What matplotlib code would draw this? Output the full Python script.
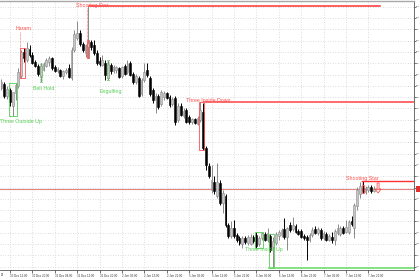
import matplotlib
matplotlib.use("Agg")
import matplotlib.pyplot as plt
import matplotlib.transforms as mtransforms
from matplotlib.patches import Rectangle, Polygon
import numpy as np

plt.rcParams['font.family'] = ['Liberation Sans', 'DejaVu Sans']

# ---------------- data (hourly OHLC) ----------------
opens = [1.2012, 1.2016, 1.2004, 1.2010, 1.1994, 1.2007, 1.2014, 1.2024, 1.2048, 1.2040,
         1.2051, 1.2045, 1.2038, 1.2034, 1.2024, 1.2030, 1.2034, 1.2038, 1.2042, 1.2033,
         1.2029, 1.2030, 1.2024, 1.2028, 1.2032, 1.2022, 1.2050, 1.2062, 1.2067, 1.2056,
         1.2047, 1.2053, 1.2058, 1.2055, 1.2047, 1.2039, 1.2035, 1.2037, 1.2022, 1.2035,
         1.2029, 1.2030, 1.2032, 1.2024, 1.2034, 1.2028, 1.2037, 1.2026, 1.2018, 1.2022,
         1.2006, 1.2020, 1.2030, 1.2022, 1.2010, 1.2000, 1.2004, 1.1996, 1.2003, 1.2007,
         1.2003, 1.1996, 1.2002, 1.1980, 1.1994, 1.1984, 1.1990, 1.1983, 1.1978, 1.1981,
         1.1976, 1.1980, 1.1988, 1.1952, 1.1934, 1.1910, 1.1918, 1.1904, 1.1917, 1.1897,
         1.1904, 1.1875, 1.1864, 1.1872, 1.1865, 1.1862, 1.1856, 1.1862, 1.1857, 1.1856,
         1.1863, 1.1865, 1.1856, 1.1862, 1.1866, 1.1860, 1.1864, 1.1853, 1.1857, 1.1864,
         1.1865, 1.1871, 1.1863, 1.1875, 1.1871, 1.1874, 1.1869, 1.1869, 1.1864, 1.1863,
         1.1860, 1.1865, 1.1871, 1.1867, 1.1870, 1.1862, 1.1866, 1.1860, 1.1863, 1.1860,
         1.1867, 1.1866, 1.1872, 1.1868, 1.1868, 1.1879, 1.1872, 1.1894, 1.1906, 1.1912,
         1.1908, 1.1910, 1.1913, 1.1909]
highs = [1.2021, 1.2018, 1.2014, 1.2012, 1.2002, 1.2017, 1.2032, 1.2050, 1.2052, 1.2058,
         1.2055, 1.2048, 1.2040, 1.2036, 1.2037, 1.2038, 1.2042, 1.2044, 1.2043, 1.2035,
         1.2033, 1.2031, 1.2030, 1.2032, 1.2036, 1.2053, 1.2070, 1.2079, 1.2070, 1.2058,
         1.2056, 1.2094, 1.2060, 1.2060, 1.2050, 1.2043, 1.2045, 1.2040, 1.2040, 1.2037,
         1.2035, 1.2034, 1.2033, 1.2034, 1.2036, 1.2040, 1.2039, 1.2028, 1.2026, 1.2024,
         1.2022, 1.2037, 1.2037, 1.2024, 1.2012, 1.2007, 1.2006, 1.2010, 1.2009, 1.2008,
         1.2005, 1.2003, 1.2004, 1.1997, 1.1997, 1.1992, 1.1992, 1.1985, 1.1982, 1.1982,
         1.1984, 1.1998, 1.1997, 1.1954, 1.1937, 1.1935, 1.1924, 1.1937, 1.1920, 1.1910,
         1.1906, 1.1877, 1.1879, 1.1880, 1.1867, 1.1864, 1.1864, 1.1864, 1.1865, 1.1866,
         1.1865, 1.1868, 1.1864, 1.1868, 1.1868, 1.1872, 1.1866, 1.1863, 1.1868, 1.1870,
         1.1872, 1.1882, 1.1873, 1.1878, 1.1883, 1.1876, 1.1871, 1.1871, 1.1866, 1.1865,
         1.1867, 1.1873, 1.1874, 1.1873, 1.1872, 1.1869, 1.1868, 1.1866, 1.1868, 1.1871,
         1.1876, 1.1874, 1.1874, 1.1880, 1.1880, 1.1884, 1.1897, 1.1913, 1.1918, 1.1919,
         1.1914, 1.1915, 1.1915, 1.1914]
lows = [1.2010, 1.2002, 1.2001, 1.1994, 1.1984, 1.2000, 1.2012, 1.2022, 1.2038, 1.2038,
        1.2043, 1.2036, 1.2033, 1.2024, 1.2018, 1.2029, 1.2033, 1.2034, 1.2030, 1.2028,
        1.2027, 1.2023, 1.2021, 1.2026, 1.2022, 1.2020, 1.2048, 1.2060, 1.2054, 1.2048,
        1.2043, 1.2042, 1.2050, 1.2045, 1.2035, 1.2034, 1.2034, 1.2020, 1.2020, 1.2026,
        1.2027, 1.2027, 1.2022, 1.2022, 1.2025, 1.2026, 1.2024, 1.2016, 1.2016, 1.2003,
        1.2004, 1.2018, 1.2023, 1.2004, 1.1997, 1.1987, 1.1991, 1.1994, 1.2000, 1.2001,
        1.1993, 1.1994, 1.1975, 1.1978, 1.1984, 1.1982, 1.1977, 1.1976, 1.1976, 1.1976,
        1.1975, 1.1978, 1.1950, 1.1930, 1.1922, 1.1907, 1.1906, 1.1902, 1.1895, 1.1887,
        1.1873, 1.1862, 1.1862, 1.1862, 1.1858, 1.1855, 1.1852, 1.1856, 1.1855, 1.1855,
        1.1857, 1.1852, 1.1854, 1.1860, 1.1859, 1.1858, 1.1848, 1.1832, 1.1855, 1.1860,
        1.1863, 1.1861, 1.1850, 1.1868, 1.1869, 1.1867, 1.1865, 1.1862, 1.1860, 1.1840,
        1.1858, 1.1863, 1.1866, 1.1865, 1.1860, 1.1860, 1.1859, 1.1859, 1.1857, 1.1855,
        1.1865, 1.1864, 1.1866, 1.1867, 1.1866, 1.1874, 1.1862, 1.1890, 1.1902, 1.1907,
        1.1906, 1.1908, 1.1907, 1.1908]
closes = [1.2018, 1.2004, 1.2011, 1.1998, 1.2008, 1.2015, 1.2028, 1.2048, 1.2042, 1.2052,
          1.2045, 1.2037, 1.2034, 1.2026, 1.2034, 1.2036, 1.2040, 1.2042, 1.2032, 1.2029,
          1.2031, 1.2024, 1.2029, 1.2030, 1.2023, 1.2050, 1.2066, 1.2067, 1.2056, 1.2050,
          1.2055, 1.2057, 1.2053, 1.2047, 1.2037, 1.2036, 1.2040, 1.2025, 1.2036, 1.2029,
          1.2033, 1.2033, 1.2023, 1.2033, 1.2026, 1.2036, 1.2025, 1.2018, 1.2024, 1.2004,
          1.2020, 1.2028, 1.2025, 1.2006, 1.2000, 1.2004, 1.1993, 1.2008, 1.2007, 1.2002,
          1.1995, 1.2001, 1.1978, 1.1994, 1.1985, 1.1989, 1.1978, 1.1978, 1.1981, 1.1977,
          1.1982, 1.1990, 1.1952, 1.1935, 1.1924, 1.1920, 1.1909, 1.1918, 1.1897, 1.1907,
          1.1875, 1.1864, 1.1872, 1.1864, 1.1860, 1.1857, 1.1862, 1.1858, 1.1863, 1.1863,
          1.1859, 1.1854, 1.1862, 1.1867, 1.1860, 1.1867, 1.1850, 1.1859, 1.1866, 1.1868,
          1.1870, 1.1863, 1.1872, 1.1870, 1.1875, 1.1868, 1.1866, 1.1863, 1.1862, 1.1860,
          1.1865, 1.1870, 1.1867, 1.1871, 1.1862, 1.1867, 1.1860, 1.1864, 1.1860, 1.1869,
          1.1872, 1.1872, 1.1867, 1.1873, 1.1878, 1.1876, 1.1895, 1.1910, 1.1914, 1.1909,
          1.1912, 1.1913, 1.1909, 1.1911]

time_tick_bars = [3, 11, 19, 27, 35, 43, 51, 59, 67, 75, 83, 91, 99, 107, 115, 123, 131]
time_tick_labels = ["30 Dec 12:00", "30 Dec 20:00", "31 Dec 04:00", "31 Dec 12:00",
                    "31 Dec 20:00", "2 Jan 05:00", "2 Jan 13:00", "2 Jan 21:00",
                    "5 Jan 05:00", "5 Jan 13:00", "5 Jan 21:00", "6 Jan 05:00",
                    "6 Jan 13:00", "6 Jan 21:00", "7 Jan 05:00", "7 Jan 13:00",
                    "7 Jan 21:00"]
first_label = "25"

# candlestick patterns found
pattern_names = ["Three Outside Up", "Haram", "Belt Hold", "Shooting Star", "Engulfing",
                 "Three Inside Down", "Three Inside Up", "", "Shooting Star"]
pattern_first = [3, 7, 14, 31, 38, 71, 91, 96, 129]
pattern_last = [5, 8, 14, 31, 38, 72, 93, 97, 129]
pattern_bull = [True, False, True, False, True, False, True, True, False]

# ---------------- layout ----------------
W, H = 420, 280
AX_RIGHT_PX, AX_BOTTOM_PX, AX_TOP_PX = 414, 270, 1
BAR_PX, BAR0_PX = 2.8, 1.5

GREEN = '#55cc55'
RED = '#ff4d4d'

# label anchors (bar position, price, ha) and whether the box stops at the body top
label_pos = [(-0.4, 1.1978, 'left'), (7.85, 1.2071, 'center'), (15.2, 1.2012, 'center'),
             (32.3, 1.2095, 'center'), (39.1, 1.2008, 'center'), (73.9, 1.2000, 'center'),
             (93.6, 1.1850, 'center'), None, (128.75, 1.1922, 'center')]
box_to_body = [False, False, False, True, False, False, False, False, True]
level_end = {3: 135.2}
dotted_box = [False, False, True, False, True, False, False, False, False]

fig = plt.figure(figsize=(W / 100, H / 100), dpi=100)
fig.patch.set_facecolor('white')
ax = fig.add_axes([0, 1 - AX_BOTTOM_PX / H, AX_RIGHT_PX / W, (AX_BOTTOM_PX - AX_TOP_PX) / H])

x_min = -BAR0_PX / BAR_PX
x_max = (AX_RIGHT_PX - BAR0_PX) / BAR_PX
ax.set_xlim(x_min, x_max)
ax.set_ylim(1.1830, 1.2099)

o = np.array(opens); h = np.array(highs); l = np.array(lows); c = np.array(closes)
idx = np.arange(len(o))
up = c >= o

BULL_EDGE = '#8a8a8a'
BULL_FACE = '#c6c6c6'
ax.vlines(idx[up], l[up], h[up], color=BULL_EDGE, lw=0.7, zorder=3)
ax.vlines(idx[~up], l[~up], h[~up], color='black', lw=0.7, zorder=3)
bw = 0.7
for i in idx:
    lo_b = min(o[i], c[i]); hi_b = max(o[i], c[i])
    hgt = max(hi_b - lo_b, 0.00005)
    if up[i]:
        ax.add_patch(Rectangle((i - bw / 2, lo_b), bw, hgt, facecolor=BULL_FACE,
                               edgecolor=BULL_EDGE, lw=0.4, zorder=4))
    else:
        ax.add_patch(Rectangle((i - bw / 2, lo_b), bw, hgt, facecolor='black',
                               edgecolor='black', lw=0.4, zorder=4))

# grid / axes
ytick_vals = 1.20933 - 0.00113 * np.arange(24)
ax.set_yticks(ytick_vals)
ax.set_yticklabels([f"{v:.3f}" for v in ytick_vals])
ax.yaxis.tick_right()
ax.tick_params(axis='y', labelsize=1.1, length=1.2, width=0.5, pad=0.2, colors='#444444')
ax.set_xticks(time_tick_bars)
ax.set_xticklabels(time_tick_labels)
for lab in ax.get_xticklabels():
    lab.set_ha('left')
ax.tick_params(axis='x', labelsize=2.1, length=2.5, width=0.5, pad=0.6, colors='#333333')
ax.grid(True, color='#d2d2d2', linestyle=(0, (1, 2)), lw=0.6)
ax.set_axisbelow(True)
ax.spines['left'].set_visible(False)
ax.spines['top'].set_color('#a8a8a8')
ax.spines['top'].set_linewidth(1.0)
ax.spines['right'].set_color('#555555')
ax.spines['right'].set_linewidth(0.6)
ax.spines['bottom'].set_color('#555555')
ax.spines['bottom'].set_linewidth(0.6)
fig.text(0.5 / W, 1 - 275 / H, first_label, fontsize=2.1, color='#333333',
         ha='left', va='center')

# current price line and marker
last = closes[-1]
ax.axhline(last, color='#e88080', lw=0.8, zorder=2)
trans = mtransforms.blended_transform_factory(ax.transAxes, ax.transData)
ax.add_patch(Rectangle((1.005, last - 0.0003), 0.03, 0.0006, transform=trans,
                       facecolor='#e03030', edgecolor='none', clip_on=False, zorder=6))

# pattern boxes, labels and levels
for k, name in enumerate(pattern_names):
    a, b = pattern_first[k], pattern_last[k]
    col = GREEN if pattern_bull[k] else RED
    lo = min(lows[a:b + 1])
    if box_to_body[k]:
        hi = max(max(opens[a:b + 1]), max(closes[a:b + 1])) + 0.0003
    else:
        hi = max(highs[a:b + 1])
    ls = (0, (1, 1)) if dotted_box[k] else '-'
    ax.add_patch(Rectangle((a - 0.4, lo), (b - a) + 0.8, hi - lo, fill=False,
                           edgecolor=col, lw=0.6, ls=ls, zorder=5))
    if label_pos[k] is not None:
        lx, ly, ha = label_pos[k]
        ax.text(lx, ly, name, color=col, fontsize=3.8, ha=ha, va='center', zorder=7)
        if not pattern_bull[k] and ly - 0.0003 > hi:
            ax.plot([a - 0.4, a - 0.4], [ly - 0.0003, hi], color=col, lw=0.5,
                    ls=(0, (1, 1)), zorder=5)

# horizontal levels
lvl_ss = highs[31]
ax.plot([31 + 0.4, level_end[3]], [lvl_ss, lvl_ss], color='#ff3030', lw=1.1, zorder=5)
lvl_tid = max(highs[71:73])
ax.plot([72 + 0.4, x_max], [lvl_tid, lvl_tid], color='#ff6a6a', lw=1.4, zorder=5)
lvl_tiu = min(lows[96:98])
ax.plot([96 - 0.4, x_max], [lvl_tiu, lvl_tiu], color='#66dd66', lw=1.1, zorder=5)
lvl_ss2 = highs[129]
ax.plot([129 - 0.4, x_max], [lvl_ss2, lvl_ss2], color='#ff3030', lw=1.0, zorder=5)

# down arrow after last shooting star
cx = 134.5
top, mid, tip = 1.1917, 1.1911, 1.1907
arrow = Polygon([(cx - 0.35, top), (cx + 0.35, top), (cx + 0.35, mid), (cx + 1.1, mid),
                 (cx, tip), (cx - 1.1, mid), (cx - 0.35, mid)], closed=True,
                fill=False, edgecolor=RED, lw=0.6, zorder=6)
ax.add_patch(arrow)

fig.savefig('out.png', dpi=100, facecolor='white')
